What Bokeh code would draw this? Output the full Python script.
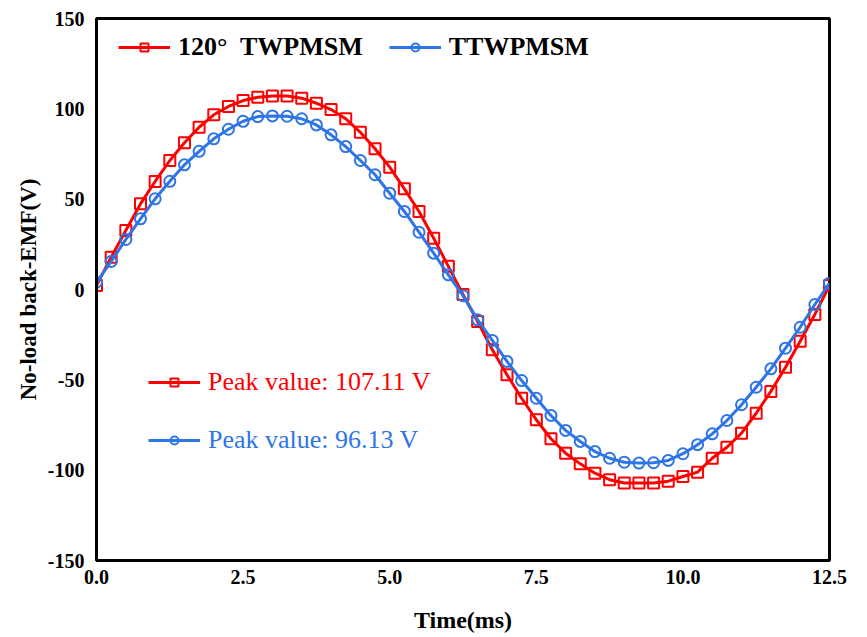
from bokeh.plotting import figure
from bokeh.models import Legend, LegendItem, FixedTicker, CustomJSTickFormatter, Range1d
from bokeh.embed import file_html
from bokeh.resources import INLINE

time_ms = [0.0, 0.25, 0.5, 0.75, 1.0, 1.25, 1.5, 1.75, 2.0, 2.25, 2.5, 2.75, 3.0, 3.25, 3.5, 3.75,
           4.0, 4.25, 4.5, 4.75, 5.0, 5.25, 5.5, 5.75, 6.0, 6.25, 6.5, 6.75, 7.0, 7.25, 7.5, 7.75,
           8.0, 8.25, 8.5, 8.75, 9.0, 9.25, 9.5, 9.75, 10.0, 10.25, 10.5, 10.75, 11.0, 11.25, 11.5,
           11.75, 12.0, 12.25, 12.5]

emf_120_twpmsm = [2.2, 17.9, 32.7, 47.4, 59.8, 71.4, 81.2, 89.8, 96.7, 101.3, 104.6, 106.4, 107.1,
                  107.1, 105.9, 103.1, 99.6, 94.5, 87.0, 77.9, 67.7, 55.7, 43.2, 28.4, 12.8, -2.8,
                  -17.7, -33.4, -47.2, -60.2, -72.1, -82.6, -90.6, -96.5, -101.7, -105.3, -107.1,
                  -107.1, -107.1, -106.1, -103.5, -101.1, -93.4, -87.3, -79.5, -68.5, -56.4, -43.0,
                  -28.6, -13.8, 2.2]

emf_ttwpmsm = [4.0, 15.5, 27.7, 39.1, 50.2, 59.9, 69.0, 76.5, 83.4, 88.7, 93.1, 95.7, 96.1, 95.9,
               94.5, 91.1, 85.6, 79.1, 71.4, 63.5, 53.3, 43.2, 31.7, 20.1, 8.1, -3.4, -16.8, -28.2,
               -39.8, -50.4, -60.2, -69.7, -78.0, -84.1, -89.7, -93.4, -95.6, -96.1, -95.9, -94.6,
               -90.9, -85.9, -79.9, -72.5, -63.8, -54.1, -43.9, -32.5, -20.9, -8.3, 3.5]

x_ticks = [0.0, 2.5, 5.0, 7.5, 10.0, 12.5]
y_ticks = [-150, -100, -50, 0, 50, 100, 150]

series_names = ["120°  TWPMSM", "TTWPMSM"]
peak_labels = ["Peak value: 107.11 V", "Peak value: 96.13 V"]

RED = "#FF0000"
BLUE = "#2E75E6"
FONT = "Liberation Serif"

p = figure(width=867, height=637, output_backend="svg", toolbar_location=None,
           x_range=Range1d(0, 12.5), y_range=Range1d(-150, 150))
p.min_border_left = 96
p.min_border_right = 38
p.min_border_top = 18
p.min_border_bottom = 77
p.background_fill_color = "white"
p.border_fill_color = "white"
p.outline_line_color = "black"
p.outline_line_width = 3
p.xgrid.visible = False
p.ygrid.visible = False

r1l = p.line(time_ms, emf_120_twpmsm, line_color=RED, line_width=3)
r1s = p.scatter(time_ms, emf_120_twpmsm, marker="square", size=11, line_color=RED,
                line_width=2, fill_alpha=0)
r2l = p.line(time_ms, emf_ttwpmsm, line_color=BLUE, line_width=3)
r2s = p.scatter(time_ms, emf_ttwpmsm, marker="circle", size=11, line_color=BLUE,
                line_width=2, fill_alpha=0)

for ax in (p.xaxis[0], p.yaxis[0]):
    ax.axis_line_color = "black"
    ax.axis_line_width = 3
    ax.major_tick_out = 0
    ax.major_tick_in = 0
    ax.minor_tick_out = 0
    ax.minor_tick_in = 0
    ax.major_label_text_font = FONT
    ax.major_label_text_font_style = "bold"
    ax.major_label_text_font_size = "20px"
    ax.major_label_text_color = "black"
    ax.axis_label_text_font = FONT
    ax.axis_label_text_font_style = "bold"
    ax.axis_label_text_color = "black"

p.xaxis.ticker = FixedTicker(ticks=x_ticks)
p.yaxis.ticker = FixedTicker(ticks=y_ticks)
p.xaxis.formatter = CustomJSTickFormatter(code="return tick.toFixed(1);")
p.yaxis.formatter = CustomJSTickFormatter(code="return tick.toFixed(0);")
p.xaxis.major_label_standoff = 9
p.yaxis.major_label_standoff = 12
p.xaxis.axis_label = "Time(ms)"
p.yaxis.axis_label = "No-load back-EMF(V)"
p.xaxis.axis_label_text_font_size = "24px"
p.yaxis.axis_label_text_font_size = "23px"
p.xaxis.axis_label_standoff = 20
p.yaxis.axis_label_standoff = 4

top_legend = Legend(items=[LegendItem(label=series_names[0], renderers=[r1l, r1s]),
                           LegendItem(label=series_names[1], renderers=[r2l, r2s])],
                    orientation="horizontal", location=(22, 498))
top_legend.label_text_font = FONT
top_legend.label_text_font_style = "bold"
top_legend.label_text_font_size = "26px"
top_legend.label_text_color = "black"
top_legend.glyph_width = 52
top_legend.glyph_height = 20
top_legend.label_standoff = 8
top_legend.spacing = 26
top_legend.padding = 0
top_legend.margin = 0
top_legend.border_line_alpha = 0
top_legend.background_fill_alpha = 0
p.add_layout(top_legend, "center")

for i, (rl, rs, col, loc) in enumerate([(r1l, r1s, RED, (52, 163)), (r2l, r2s, BLUE, (52, 105))]):
    lg = Legend(items=[LegendItem(label=peak_labels[i], renderers=[rl, rs])], location=loc)
    lg.label_text_font = FONT
    lg.label_text_font_size = "26px"
    lg.label_text_color = col
    lg.glyph_width = 52
    lg.glyph_height = 20
    lg.label_standoff = 8
    lg.padding = 0
    lg.margin = 0
    lg.border_line_alpha = 0
    lg.background_fill_alpha = 0
    p.add_layout(lg, "center")

open("out.html", "w").write(file_html(p, INLINE))
